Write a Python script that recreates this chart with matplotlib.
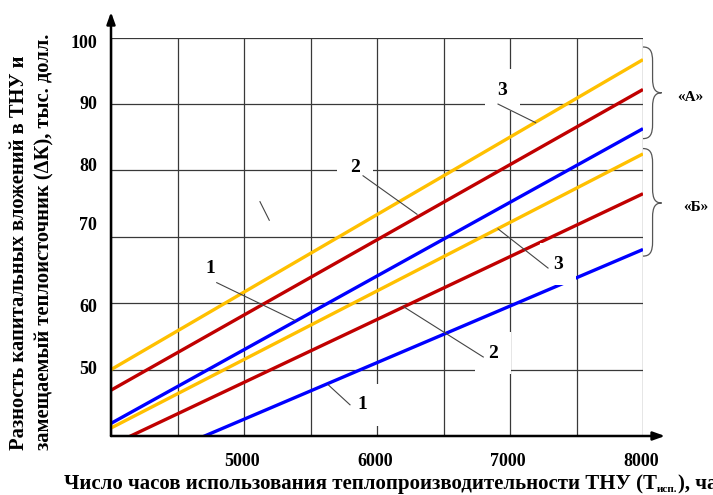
import matplotlib
matplotlib.use("Agg")
import matplotlib.pyplot as plt
import matplotlib.transforms as mtransforms
import numpy as np
from matplotlib.path import Path
from matplotlib.patches import PathPatch

plt.rcParams["font.family"] = ["Liberation Serif", "DejaVu Serif"]
plt.rcParams["font.weight"] = "bold"

# hours of heat pump use (T_isp) - each line is straight, value at both ends
hours = [4000, 8000]

# group "A"
a_yellow = [50.0, 96.7]
a_red = [46.9, 92.2]
a_blue = [41.9, 86.3]
# group "B"
b_yellow = [41.2, 82.5]
b_red = [38.6, 76.5]
b_blue = [34.0, 68.1]

x_ticks = [4000, 4500, 5000, 5500, 6000, 6500, 7000, 7500, 8000]
x_tick_labels = ["", "", "5000", "", "6000", "", "7000", "", "8000"]
y_ticks = [40, 50, 60, 70, 80, 90, 100]
y_tick_labels = ["", "50", "60", "70", "80", "90", "100"]
# the original y labels sit a little off their grid lines (pixels, up = +)
y_label_shift = [0, 2, -2, 13, 6, 1.5, -4]

# curve labels: (text, text position, leader start, leader end)
labels = [
    ("3", (6940, 92.1), (6910, 90.0), (7193, 87.2)),
    ("2", (5835, 80.4), (5895, 79.2), (6301, 73.4)),
    ("1", (4744, 65.3), (4795, 63.1), (5383, 57.4)),
    ("3", (7361, 65.9), (7286, 65.3), (6910, 71.2)),
    ("2", (6872, 52.5), (6799, 51.9), (6198, 59.5)),
    ("1", (5887, 44.7), (5797, 44.7), (5634, 47.7)),
]

# braces: (label, top, middle, bottom)
braces = [
    ("«А»", 98.6, 91.7, 84.8),
    ("«Б»", 83.3, 75.1, 67.1),
]

YELLOW = "#FFC000"
RED = "#C00000"
BLUE = "#0000FF"

W, H = 713, 495
fig = plt.figure(figsize=(W / 100, H / 100), dpi=100)
ax = fig.add_axes([111 / W, 59 / H, 532 / W, 398.3 / H])

for vals, col in [(a_yellow, YELLOW), (a_red, RED), (a_blue, BLUE),
                  (b_yellow, YELLOW), (b_red, RED), (b_blue, BLUE)]:
    ax.plot(hours, vals, color=col, lw=2.4, solid_capstyle="butt", zorder=3)

ax.set_xlim(4000, 8000)
ax.set_ylim(40, 100)
ax.set_xticks(x_ticks)
ax.set_xticklabels(x_tick_labels)
ax.set_yticks(y_ticks)
ax.set_yticklabels(y_tick_labels)
ax.tick_params(length=0, labelsize=13)
ax.tick_params(axis="x", pad=12)
ax.tick_params(axis="y", pad=10)
ax.grid(True, color="#383838", lw=0.9, zorder=1)
ax.set_axisbelow(True)
for s in ax.spines.values():
    s.set_visible(False)

for lab, dy in zip(ax.get_yticklabels(), y_label_shift):
    lab.set_transform(lab.get_transform() +
                      mtransforms.ScaledTranslation(0, dy / 100, fig.dpi_scale_trans))
for lab in ax.get_xticklabels():
    lab.set_transform(lab.get_transform() +
                      mtransforms.ScaledTranslation(-0.02, 0, fig.dpi_scale_trans))

# axes with arrows
ax.annotate("", xy=(0, 1.0645), xytext=(0, 0), xycoords="axes fraction",
            arrowprops=dict(arrowstyle="-|>,head_length=0.7,head_width=0.25",
                            color="black", lw=1.8, shrinkA=0, shrinkB=0),
            annotation_clip=False)
ax.annotate("", xy=(1.0414, 0), xytext=(0, 0), xycoords="axes fraction",
            arrowprops=dict(arrowstyle="-|>,head_length=0.7,head_width=0.25",
                            color="black", lw=1.8, shrinkA=0, shrinkB=0),
            annotation_clip=False)

# curve number labels with leader lines
for txt, tpos, p0, p1 in labels:
    ax.text(tpos[0], tpos[1], txt, fontsize=14, fontweight="bold",
            ha="center", va="center", zorder=4,
            bbox=dict(boxstyle="square,pad=0.65", fc="white", ec="none"))
    ax.plot([p0[0], p1[0]], [p0[1], p1[1]], color="#444444", lw=0.8, zorder=5)

# small stray stroke
ax.plot([5120, 5190], [75.3, 72.5], color="#444444", lw=0.8, zorder=5)

# braces on the right
def brace(top, mid, bot):
    x0, x1, x2 = 8000, 8072, 8140
    verts = [
        (x0, top),
        (x1 - 20, top), (x1, top - 0.6), (x1, top - 2.2),
        (x1, mid + 2.2),
        (x1, mid + 0.6), (x1 + 20, mid), (x2, mid),
        (x1 + 20, mid), (x1, mid - 0.6), (x1, mid - 2.2),
        (x1, bot + 2.2),
        (x1, bot + 0.6), (x1 - 20, bot), (x0, bot),
    ]
    codes = [Path.MOVETO,
             Path.CURVE4, Path.CURVE4, Path.CURVE4,
             Path.LINETO,
             Path.CURVE4, Path.CURVE4, Path.CURVE4,
             Path.CURVE4, Path.CURVE4, Path.CURVE4,
             Path.LINETO,
             Path.CURVE4, Path.CURVE4, Path.CURVE4]
    return PathPatch(Path(verts, codes), fc="none", ec="#555555", lw=0.9,
                     clip_on=False, zorder=5)

for name, top, mid, bot in braces:
    ax.add_patch(brace(top, mid, bot))
    off = 8355 if name == "«А»" else 8400
    ax.text(off, mid - 0.7, name, fontsize=11, fontweight="bold",
            ha="center", va="center", clip_on=False)

# y label, two lines, left aligned along the axis
fig.text(19 / W, 45 / H, "Разность капитальных вложений в ТНУ и",
         rotation=90, rotation_mode="anchor", ha="left", va="center",
         fontsize=14.8, fontweight="bold")
fig.text(44 / W, 45 / H, "замещаемый теплоисточник (\u0394К), тыс. долл.",
         rotation=90, rotation_mode="anchor", ha="left", va="center",
         fontsize=14.8, fontweight="bold")

# x label with subscript (runs off the right edge, as in the original)
t1 = fig.text(64 / W, 6 / H, "Число часов использования теплопроизводительности ТНУ (Т",
              fontsize=15.0, fontweight="bold", ha="left", va="baseline")
fig.canvas.draw()
bb = t1.get_window_extent()
t2 = fig.text(bb.x1 / W, 3 / H, "исп.", fontsize=8, fontweight="bold",
              ha="left", va="baseline")
fig.canvas.draw()
bb2 = t2.get_window_extent()
fig.text(bb2.x1 / W, 6 / H, "), час", fontsize=15.0, fontweight="bold",
         ha="left", va="baseline")

fig.savefig("out.png", dpi=100)
